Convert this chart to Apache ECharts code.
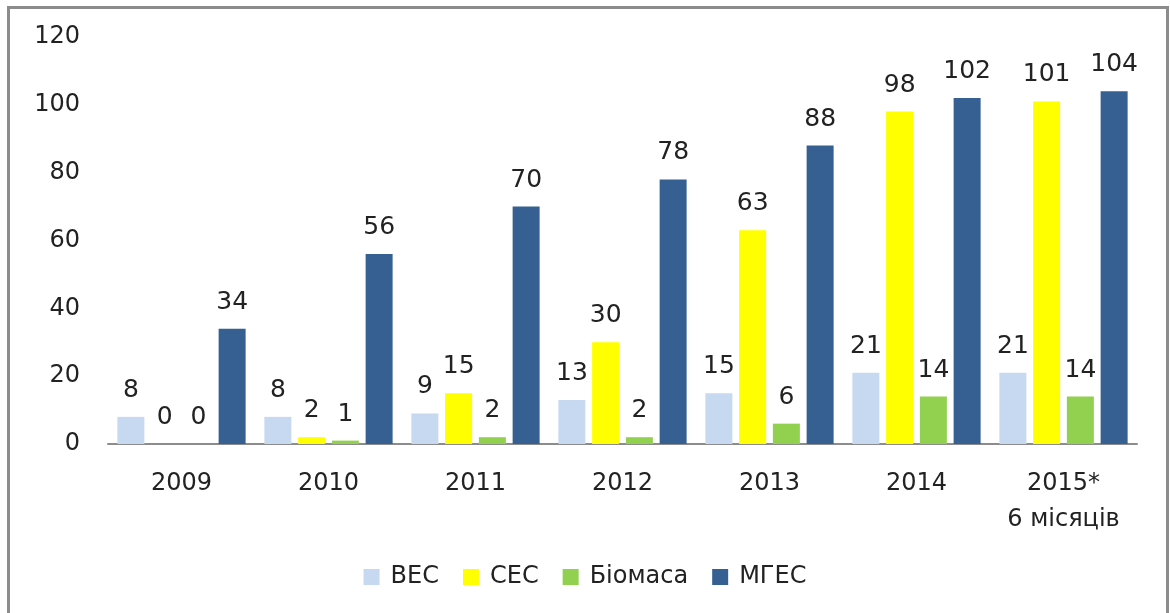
<!DOCTYPE html>
<html>
<head>
<meta charset="utf-8">
<script src="https://cdn.jsdelivr.net/npm/echarts@6/dist/echarts.min.js"></script>
<style>
  html, body { margin: 0; padding: 0; background: #fff; }
  #frame {
    position: absolute; left: 7px; top: 6px; width: 1162px; height: 610px;
    border: 3px solid #8c8c8c; border-bottom: none; box-sizing: border-box;
  }
  #chart { position: absolute; left: 0; top: 0; width: 1170px; height: 613px; }
</style>
</head>
<body>
<div id="frame"></div>
<div id="chart"></div>
<script>
// категорії та значення
var years = ['2009', '2010', '2011', '2012', '2013', '2014', '2015*\n6 місяців'];
var names = ['ВЕС', 'СЕС', 'Біомаса', 'МГЕС'];
var ves = [8, 8, 9, 13, 15, 21, 21];
var ses = [0, 2, 15, 30, 63, 98, 101];
var biomasa = [0, 1, 2, 2, 6, 14, 14];
var mges = [34, 56, 70, 78, 88, 102, 104];
var yTicks = [0, 20, 40, 60, 80, 100, 120];

var colors = ['#c6d9f1', '#ffff00', '#92d050', '#376092'];
var values = [ves, ses, biomasa, mges];
var font = '"DejaVu Sans", sans-serif';

var series = names.map(function (n, i) {
  return {
    name: n,
    type: 'bar',
    barWidth: 27,
    barGap: '25%',
    itemStyle: { color: colors[i] },
    label: {
      show: true,
      position: 'top',
      distance: 14,
      color: '#222',
      fontSize: 25,
      fontFamily: font
    },
    data: values[i]
  };
});

var chart = echarts.init(document.getElementById('chart'));
chart.setOption({
  animation: false,
  grid: { left: 108, right: 33, top: 37, bottom: 169 },
  legend: {
    bottom: 19,
    left: 'center',
    itemWidth: 16,
    itemHeight: 16,
    itemGap: 24,
    icon: 'rect',
    textStyle: { color: '#222', fontSize: 24, fontFamily: font, padding: [0, 0, 0, 6] },
    data: names
  },
  xAxis: {
    type: 'category',
    data: years,
    axisTick: { show: false },
    axisLine: { lineStyle: { color: '#8c8c8c', width: 2 } },
    axisLabel: {
      color: '#222',
      fontSize: 24,
      fontFamily: font,
      margin: 22,
      lineHeight: 36
    }
  },
  yAxis: {
    type: 'value',
    min: yTicks[0],
    max: yTicks[yTicks.length - 1],
    interval: 20,
    axisLine: { show: false },
    axisTick: { show: false },
    splitLine: { show: false },
    axisLabel: {
      color: '#222',
      fontSize: 24,
      fontFamily: font,
      margin: 28
    }
  },
  series: series
});
</script>
</body>
</html>
